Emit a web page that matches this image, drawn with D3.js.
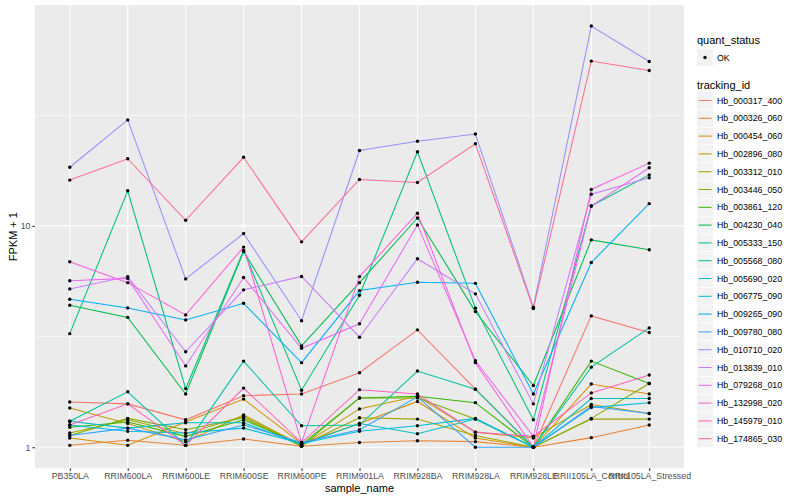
<!DOCTYPE html>
<html>
<head>
<meta charset="utf-8">
<script src="https://cdn.jsdelivr.net/npm/d3@7"></script>
<style>
body { margin: 0; background: #fff; }
svg text { font-family: "Liberation Sans", Arial, sans-serif; }
.axis-text { font-size: 8.8px; fill: #4D4D4D; }
.axis-title { font-size: 11px; fill: #000; }
.legend-title { font-size: 11px; fill: #000; }
.legend-text { font-size: 8.8px; fill: #000; }
</style>
</head>
<body>
<div id="chart"></div>
<script>
var W = 800, H = 500;
var PANEL = {left: 35, right: 684, top: 5, bottom: 468.3};

var samples = ["PB350LA", "RRIM600LA", "RRIM600LE", "RRIM600SE", "RRIM600PE", "RRIM901LA",
               "RRIM928BA", "RRIM928LA", "RRIM928LE", "RRII105LA_Control", "RRII105LA_Stressed"];
var trackingIds = ["Hb_000317_400", "Hb_000326_060", "Hb_000454_060", "Hb_002896_080", "Hb_003312_010",
                   "Hb_003446_050", "Hb_003861_120", "Hb_004230_040", "Hb_005333_150", "Hb_005568_080",
                   "Hb_005690_020", "Hb_006775_090", "Hb_009265_090", "Hb_009780_080", "Hb_010710_020",
                   "Hb_013839_010", "Hb_079268_010", "Hb_132998_020", "Hb_145979_010", "Hb_174865_030"];
var yTicks = [1, 10];

// FPKM + 1, one value per sample
var hb_000317_400 = [1.60, 1.57, 1.33, 1.71, 1.74, 2.17, 3.39, 1.83, 1.00, 3.92, 3.30];
var hb_000326_060 = [1.02, 1.075, 1.02, 1.09, 1.01, 1.05, 1.07, 1.06, 1.00, 1.105, 1.26];
var hb_000454_060 = [1.10, 1.02, 1.30, 1.65, 1.04, 1.28, 1.61, 1.10, 1.00, 1.93, 1.74];
var hb_002896_080 = [1.505, 1.28, 1.06, 1.40, 1.02, 1.49, 1.70, 1.17, 1.10, 1.56, 1.42];
var hb_003312_010 = [1.16, 1.33, 1.15, 1.38, 1.02, 1.36, 1.34, 1.13, 1.00, 1.34, 1.34];
var hb_003446_050 = [1.13, 1.35, 1.20, 1.36, 1.01, 1.67, 1.67, 1.34, 1.00, 1.35, 1.94];
var hb_003861_120 = [1.23, 1.30, 1.12, 1.33, 1.03, 1.67, 1.70, 1.59, 1.00, 2.45, 1.94];
var hb_004230_040 = [4.38, 3.86, 1.74, 7.66, 2.87, 5.54, 10.85, 4.10, 1.90, 8.64, 7.80];
var hb_005333_150 = [3.26, 14.4, 1.84, 7.74, 1.81, 4.86, 21.6, 4.25, 1.33, 12.3, 17.0];
var hb_005568_080 = [1.31, 1.78, 1.02, 2.45, 1.25, 1.26, 2.21, 1.83, 1.00, 2.30, 3.46];
var hb_005690_020 = [1.31, 1.22, 1.29, 1.29, 1.03, 1.28, 1.15, 1.34, 1.00, 1.66, 1.66];
var hb_006775_090 = [1.26, 1.18, 1.16, 1.22, 1.04, 1.18, 1.25, 1.35, 1.00, 1.51, 1.59];
var hb_009265_090 = [4.66, 4.26, 3.76, 4.47, 2.41, 5.10, 5.56, 5.50, 1.74, 6.83, 12.6];
var hb_009780_080 = [1.13, 1.22, 1.08, 1.26, 1.05, 1.20, 1.69, 1.00, 1.00, 1.53, 1.42];
var hb_010710_020 = [18.4, 30.1, 5.76, 9.23, 3.73, 21.9, 24.1, 26.0, 4.29, 79.9, 55.3];
var hb_013839_010 = [5.19, 5.90, 2.70, 5.14, 5.91, 3.14, 7.10, 4.93, 1.57, 13.9, 16.5];
var hb_079268_010 = [5.65, 5.79, 2.33, 5.84, 2.80, 3.61, 10.1, 2.46, 1.12, 12.3, 18.3];
var hb_132998_020 = [6.88, 5.54, 3.96, 8.02, 1.05, 5.90, 11.4, 2.41, 1.00, 14.6, 19.2];
var hb_145979_010 = [1.26, 1.57, 1.02, 1.85, 1.05, 1.82, 1.74, 1.17, 1.12, 1.76, 2.12];
var hb_174865_030 = [16.1, 20.1, 10.6, 20.4, 8.47, 16.2, 15.7, 23.5, 4.23, 55.5, 50.3];

var seriesValues = [hb_000317_400, hb_000326_060, hb_000454_060, hb_002896_080, hb_003312_010,
                    hb_003446_050, hb_003861_120, hb_004230_040, hb_005333_150, hb_005568_080,
                    hb_005690_020, hb_006775_090, hb_009265_090, hb_009780_080, hb_010710_020,
                    hb_013839_010, hb_079268_010, hb_132998_020, hb_145979_010, hb_174865_030];

var COLORS = ["#F8766D", "#EA8331", "#D89000", "#C09B00", "#A3A500", "#7CAE00", "#39B600", "#00BB4E",
              "#00BF7D", "#00C1A3", "#00BFC4", "#00BAE0", "#00B0F6", "#35A2FF", "#9590FF", "#C77CFF",
              "#E76BF3", "#FA62DB", "#FF62BC", "#FF6C91"];

var series = trackingIds.map(function(id, i) {
    return {id: id, color: COLORS[i], values: seriesValues[i].map(function(v, j) {
        return {sample: samples[j], value: v};
    })};
});

var svg = d3.select('#chart').append('svg').attr('width', W).attr('height', H);
svg.append('rect').attr('width', W).attr('height', H).attr('fill', '#fff');

// scales (ggplot style 0.6 discrete expansion, 5% log expansion)
var x = d3.scalePoint().domain(samples).range([PANEL.left, PANEL.right]).padding(0.6);
var all = d3.merge(seriesValues);
var lo = Math.log10(d3.min(all)), hi = Math.log10(d3.max(all));
var pad = (hi - lo) * 0.05;
var y = d3.scaleLog().domain([Math.pow(10, lo - pad), Math.pow(10, hi + pad)]).range([PANEL.bottom, PANEL.top]);

// panel
svg.append('rect')
    .attr('x', PANEL.left).attr('y', PANEL.top)
    .attr('width', PANEL.right - PANEL.left).attr('height', PANEL.bottom - PANEL.top)
    .attr('fill', '#EBEBEB');

var grid = svg.append('g');
[Math.sqrt(10), Math.sqrt(1000)].forEach(function(v) {
    grid.append('line').attr('x1', PANEL.left).attr('x2', PANEL.right)
        .attr('y1', y(v)).attr('y2', y(v)).attr('stroke', '#fff').attr('stroke-width', 0.55);
});
yTicks.forEach(function(v) {
    grid.append('line').attr('x1', PANEL.left).attr('x2', PANEL.right)
        .attr('y1', y(v)).attr('y2', y(v)).attr('stroke', '#fff').attr('stroke-width', 1.1);
});
samples.forEach(function(s) {
    grid.append('line').attr('x1', x(s)).attr('x2', x(s))
        .attr('y1', PANEL.top).attr('y2', PANEL.bottom).attr('stroke', '#fff').attr('stroke-width', 1.1);
});

// lines
var line = d3.line().x(function(d){return x(d.sample);}).y(function(d){return y(d.value);});
svg.append('g').selectAll('path')
    .data(series).enter().append('path')
    .attr('d', function(d){return line(d.values);})
    .attr('fill', 'none')
    .attr('stroke', function(d){return d.color;})
    .attr('stroke-width', 1.05);

// points
svg.append('g').selectAll('g')
    .data(series).enter().append('g')
    .selectAll('circle')
    .data(function(d){return d.values;}).enter().append('circle')
    .attr('cx', function(d){return x(d.sample);})
    .attr('cy', function(d){return y(d.value);})
    .attr('r', 1.7)
    .attr('fill', '#000');

// axes
var yAxis = svg.append('g').attr('transform', 'translate(' + PANEL.left + ',0)')
    .call(d3.axisLeft(y).tickValues(yTicks).tickFormat(d3.format('d')).tickSize(2.7).tickPadding(2));
var xAxis = svg.append('g').attr('transform', 'translate(0,' + PANEL.bottom + ')')
    .call(d3.axisBottom(x).tickSize(2.7).tickPadding(2));
[xAxis, yAxis].forEach(function(a) {
    a.select('.domain').remove();
    a.selectAll('.tick line').attr('stroke', '#333333').attr('stroke-width', 1.05);
    a.selectAll('.tick text').attr('class', 'axis-text').attr('font-size', null).attr('font-family', null);
});
xAxis.selectAll('.tick text').attr('dy', '0.71em').attr('y', 4.5);
yAxis.selectAll('.tick text').attr('x', -4.5);

svg.append('text').attr('class', 'axis-title')
    .attr('x', (PANEL.left + PANEL.right) / 2).attr('y', 492)
    .attr('text-anchor', 'middle').text('sample_name');
svg.append('text').attr('class', 'axis-title')
    .attr('transform', 'translate(17,' + (PANEL.top + PANEL.bottom) / 2 + ') rotate(-90)')
    .attr('text-anchor', 'middle').text('FPKM + 1');

// legend: quant_status
var LX = 697;
svg.append('text').attr('class', 'legend-title').attr('x', LX).attr('y', 44).text('quant_status');
svg.append('rect').attr('x', LX).attr('y', 49).attr('width', 16).attr('height', 17).attr('fill', '#F2F2F2');
svg.append('circle').attr('cx', LX + 8).attr('cy', 57.5).attr('r', 1.7).attr('fill', '#000');
svg.append('text').attr('class', 'legend-text').attr('x', LX + 20).attr('y', 60.6).text('OK');

// legend: tracking_id
svg.append('text').attr('class', 'legend-title').attr('x', LX).attr('y', 89).text('tracking_id');
var STEP = 17.8;
var keys = svg.append('g').selectAll('g')
    .data(series).enter().append('g')
    .attr('transform', function(d, i){return 'translate(' + LX + ',' + (92 + i * STEP) + ')';});
keys.append('rect').attr('width', 16).attr('height', 17).attr('fill', '#F2F2F2');
keys.append('line').attr('x1', 1.5).attr('x2', 14.5).attr('y1', 8.5).attr('y2', 8.5)
    .attr('stroke', function(d){return d.color;}).attr('stroke-width', 1.05);
keys.append('text').attr('class', 'legend-text').attr('x', 20).attr('y', 11.6)
    .text(function(d){return d.id;});
</script>
</body>
</html>
